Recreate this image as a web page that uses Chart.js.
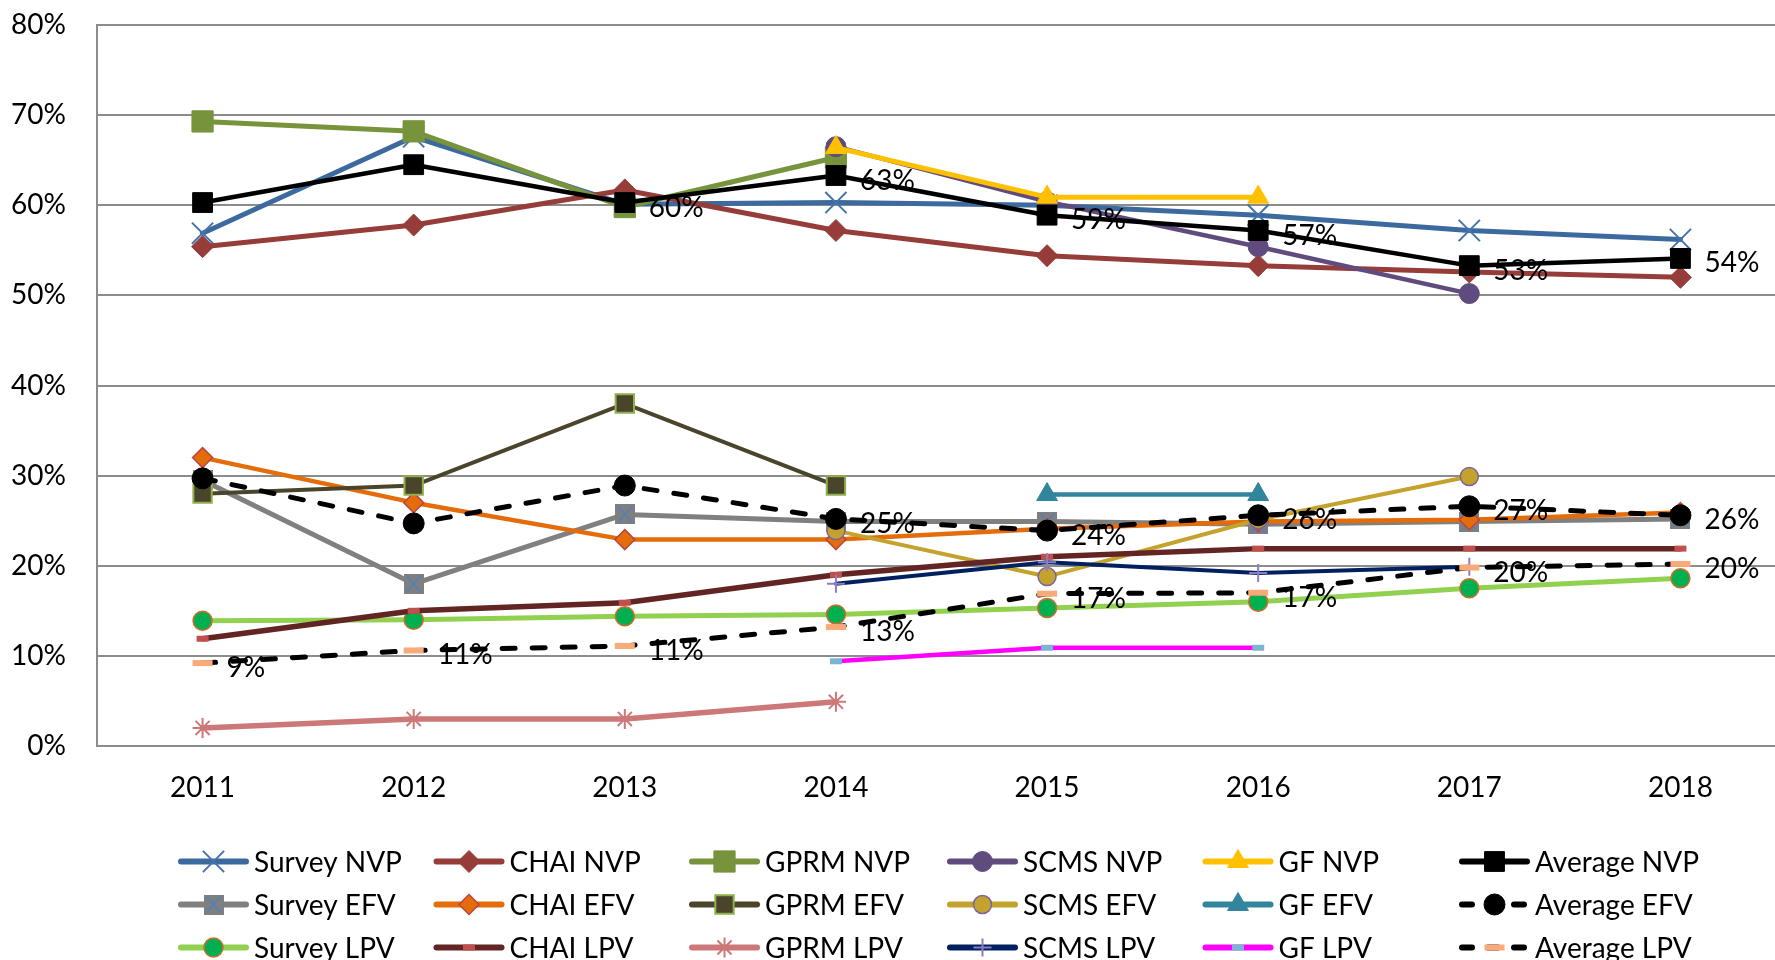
<!DOCTYPE html>
<html>
<head>
<meta charset="utf-8">
<script src="https://cdn.jsdelivr.net/npm/chart.js@4.4.1/dist/chart.umd.min.js"></script>
<style>
  html, body { margin: 0; padding: 0; background: #fff; overflow: hidden; }
  #wrap { width: 1803px; height: 960px; }
</style>
</head>
<body>
<!-- the source picture is cropped: the plot runs a little past the right edge -->
<div id="wrap"><canvas id="chart" width="1803" height="960"></canvas></div>
<script>
// categories and tick labels
const years = ['2011', '2012', '2013', '2014', '2015', '2016', '2017', '2018'];
const yTicks = [0, 10, 20, 30, 40, 50, 60, 70, 80];

// NVP series (%)
const surveyNVP = [56.9, 67.6, 60.1, 60.3, 60.0, 58.9, 57.2, 56.2];
const chaiNVP   = [55.4, 57.8, 61.7, 57.2, 54.4, 53.3, 52.6, 52.0];
const gprmNVP   = [69.3, 68.2, 59.8, 65.3, null, null, null, null];
const scmsNVP   = [null, null, null, 66.5, 60.4, 55.4, 50.2, null];
const gfNVP     = [null, null, null, 66.4, 60.9, 60.9, null, null];
const avgNVP    = [60.3, 64.5, 60.3, 63.3, 58.9, 57.2, 53.3, 54.1];

// EFV series (%)
const surveyEFV = [29.5, 18.0, 25.7, 24.9, 24.9, 24.6, 24.9, 25.2];
const chaiEFV   = [32.0, 27.0, 22.9, 22.9, 24.1, 24.9, 25.1, 25.9];
const gprmEFV   = [28.0, 28.9, 38.0, 28.9, null, null, null, null];
const scmsEFV   = [null, null, null, 23.9, 18.8, 25.1, 29.9, null];
const gfEFV     = [null, null, null, null, 27.9, 27.9, null, null];
const avgEFV    = [29.7, 24.7, 28.9, 25.2, 23.9, 25.6, 26.6, 25.6];

// LPV series (%)
const surveyLPV = [13.9, 14.0, 14.4, 14.6, 15.3, 16.0, 17.5, 18.6];
const chaiLPV   = [11.9, 15.0, 15.9, 19.0, 21.0, 21.9, 21.9, 21.9];
const gprmLPV   = [2.0, 3.0, 3.0, 4.9, null, null, null, null];
const scmsLPV   = [null, null, null, 18.0, 20.4, 19.2, 19.9, null];
const gfLPV     = [null, null, null, 9.4, 10.9, 10.9, null, null];
const avgLPV    = [9.2, 10.6, 11.1, 13.2, 16.9, 17.0, 19.8, 20.2];

const names = [
  'Survey NVP', 'CHAI NVP', 'GPRM NVP', 'SCMS NVP', 'GF NVP', 'Average NVP',
  'Survey EFV', 'CHAI EFV', 'GPRM EFV', 'SCMS EFV', 'GF EFV', 'Average EFV',
  'Survey LPV', 'CHAI LPV', 'GPRM LPV', 'SCMS LPV', 'GF LPV', 'Average LPV'
];
const values = [
  surveyNVP, chaiNVP, gprmNVP, scmsNVP, gfNVP, avgNVP,
  surveyEFV, chaiEFV, gprmEFV, scmsEFV, gfEFV, avgEFV,
  surveyLPV, chaiLPV, gprmLPV, scmsLPV, gfLPV, avgLPV
];
// first point that gets a value label (only the averages are labelled)
const labelFrom = [null, null, null, null, null, 2, null, null, null, null, null, 3, null, null, null, null, null, 0];

// grey square with a blue x, as Excel draws the Survey EFV marker
function greyBoxX() {
  const c = document.createElement('canvas');
  c.width = 20; c.height = 20;
  const g = c.getContext('2d');
  g.fillStyle = '#7f7f7f';
  g.fillRect(0, 0, 20, 20);
  g.strokeStyle = '#4f81bd';
  g.lineWidth = 1.6;
  g.beginPath();
  g.moveTo(3, 2); g.lineTo(17, 18);
  g.moveTo(17, 2); g.lineTo(3, 18);
  g.stroke();
  return c;
}

const styles = [
  {c: '#3d6a9e', w: 5, ps: 'crossRot', r: 15, bg: '#3d6a9e', bc: '#4573ab', bw: 2},
  {c: '#963c39', w: 5, ps: 'rectRot', r: 11, bg: '#963c39', bc: '#963c39', bw: 1},
  {c: '#77933c', w: 5, ps: 'rect', r: 15, bg: '#77933c', bc: '#77933c', bw: 1},
  {c: '#5f4b7e', w: 4.5, ps: 'circle', r: 10, bg: '#5f4b7e', bc: '#5f4b7e', bw: 1},
  {c: '#ffc000', w: 5, ps: 'triangle', r: 12, bg: '#ffc000', bc: '#ffc000', bw: 1},
  {c: '#000000', w: 4.5, ps: 'rect', r: 14, bg: '#000000', bc: '#000000', bw: 1},

  {c: '#808080', w: 5, ps: greyBoxX(), r: 10, bg: '#7f7f7f', bc: '#7f7f7f', bw: 0},
  {c: '#e46c0a', w: 4.5, ps: 'rectRot', r: 10, bg: '#e46c0a', bc: '#b9473f', bw: 1.5},
  {c: '#4a452a', w: 4, ps: 'rect', r: 13, bg: '#4a452a', bc: '#8eb04f', bw: 2},
  {c: '#c3a32e', w: 4, ps: 'circle', r: 9, bg: '#c3a32e', bc: '#7b64a0', bw: 1.5},
  {c: '#31859c', w: 4.5, ps: 'triangle', r: 12, bg: '#31859c', bc: '#31859c', bw: 1},
  {c: '#000000', w: 5, ps: 'circle', r: 10.5, bg: '#000000', bc: '#000000', bw: 1, dash: [13, 17]},

  {c: '#92d050', w: 5, ps: 'circle', r: 9.5, bg: '#00b050', bc: '#cf6d2a', bw: 1.5},
  {c: '#632523', w: 5.5, ps: 'line', r: 6, bg: '#c0504d', bc: '#c0504d', bw: 6},
  {c: '#cd7878', w: 5.5, ps: 'star', r: 10, bg: '#cd7878', bc: '#cd7878', bw: 2},
  {c: '#002060', w: 4, ps: 'cross', r: 9, bg: '#8e7cc3', bc: '#8e7cc3', bw: 2},
  {c: '#ff00ff', w: 4.5, ps: 'line', r: 6, bg: '#7cb5d2', bc: '#7cb5d2', bw: 6},
  {c: '#000000', w: 5, ps: 'line', r: 10, bg: '#f8aa78', bc: '#f8aa78', bw: 6, dash: [13, 17]}
];

const FONT = 'Lato';

const datasets = names.map((name, i) => {
  const s = styles[i];
  return {
    label: name,
    data: values[i],
    borderColor: s.c,
    borderWidth: s.w,
    borderDash: s.dash || [],
    borderCapStyle: 'round',
    borderJoinStyle: 'round',
    pointStyle: s.ps,
    pointRadius: s.r,
    pointHoverRadius: s.r,
    pointBackgroundColor: s.bg,
    pointBorderColor: s.bc,
    pointBorderWidth: s.bw,
    fill: false,
    tension: 0,
    spanGaps: false,
    order: 100 - i
  };
});

// percentage labels to the right of the average points
const pctLabels = {
  id: 'pctLabels',
  afterDatasetsDraw(chart) {
    const ctx = chart.ctx;
    ctx.save();
    ctx.font = '28px ' + FONT;
    ctx.fillStyle = '#000';
    ctx.textAlign = 'left';
    ctx.textBaseline = 'middle';
    chart.data.datasets.forEach((ds, i) => {
      const from = labelFrom[i];
      if (from === null) return;
      chart.getDatasetMeta(i).data.forEach((pt, j) => {
        const v = ds.data[j];
        if (j < from || v === null) return;
        ctx.fillText(Math.round(v) + '%', pt.x + 24, pt.y + 5);
      });
    });
    ctx.restore();
  }
};

// Excel-like legend: 6 columns x 3 rows, line + marker + name
const gridLegend = {
  id: 'gridLegend',
  afterDraw(chart) {
    const ctx = chart.ctx;
    const colX = [178, 433.5, 689, 947, 1202.5, 1459];
    const rowY = [861.5, 904.5, 947.5];
    chart.data.datasets.forEach((ds, i) => {
      const s = styles[i];
      const x0 = colX[i % 6];
      const y = rowY[Math.floor(i / 6)];
      ctx.save();
      ctx.strokeStyle = s.c;
      ctx.lineWidth = 6;
      ctx.lineCap = 'round';
      ctx.setLineDash(s.dash ? [10, 16] : []);
      ctx.beginPath();
      ctx.moveTo(x0 + 3, y);
      ctx.lineTo(x0 + 68, y);
      ctx.stroke();
      ctx.setLineDash([]);
      ctx.lineCap = 'butt';
      ctx.fillStyle = s.bg;
      ctx.strokeStyle = s.bc;
      ctx.lineWidth = s.bw;
      Chart.helpers.drawPoint(ctx, {pointStyle: s.ps, radius: s.r, rotation: 0, borderWidth: s.bw}, x0 + 35.5, y);
      ctx.fillStyle = '#000';
      ctx.font = '28px ' + FONT;
      ctx.textAlign = 'left';
      ctx.textBaseline = 'alphabetic';
      ctx.fillText(ds.label, x0 + 76, y + 10);
      ctx.restore();
    });
  }
};

new Chart(document.getElementById('chart').getContext('2d'), {
  type: 'line',
  data: { labels: years, datasets: datasets },
  plugins: [pctLabels, gridLegend],
  options: {
    responsive: false,
    animation: false,
    devicePixelRatio: 1,
    layout: { padding: { top: 25, right: 0, bottom: 154, left: 0 } },
    plugins: {
      legend: { display: false },
      tooltip: { enabled: false },
      title: { display: false }
    },
    scales: {
      x: {
        offset: true,
        grid: { display: false, drawTicks: false },
        border: { display: false },
        ticks: { font: { family: FONT, size: 28 }, color: '#000', padding: 25, maxRotation: 0, autoSkip: false },
        afterFit: s => { s.height = 60; s.paddingLeft = 0; s.paddingRight = 0; }
      },
      y: {
        min: 0,
        max: 80,
        afterBuildTicks: s => { s.ticks = yTicks.map(v => ({ value: v })); },
        ticks: { font: { family: FONT, size: 28 }, color: '#000', padding: 31, callback: v => v + '%' },
        grid: { color: '#8c8c8c', lineWidth: 2, drawTicks: false },
        border: { display: true, color: '#8c8c8c', width: 2 },
        afterFit: s => { s.width = 97; s.paddingTop = 0; s.paddingBottom = 0; }
      }
    }
  }
});
</script>
</body>
</html>
